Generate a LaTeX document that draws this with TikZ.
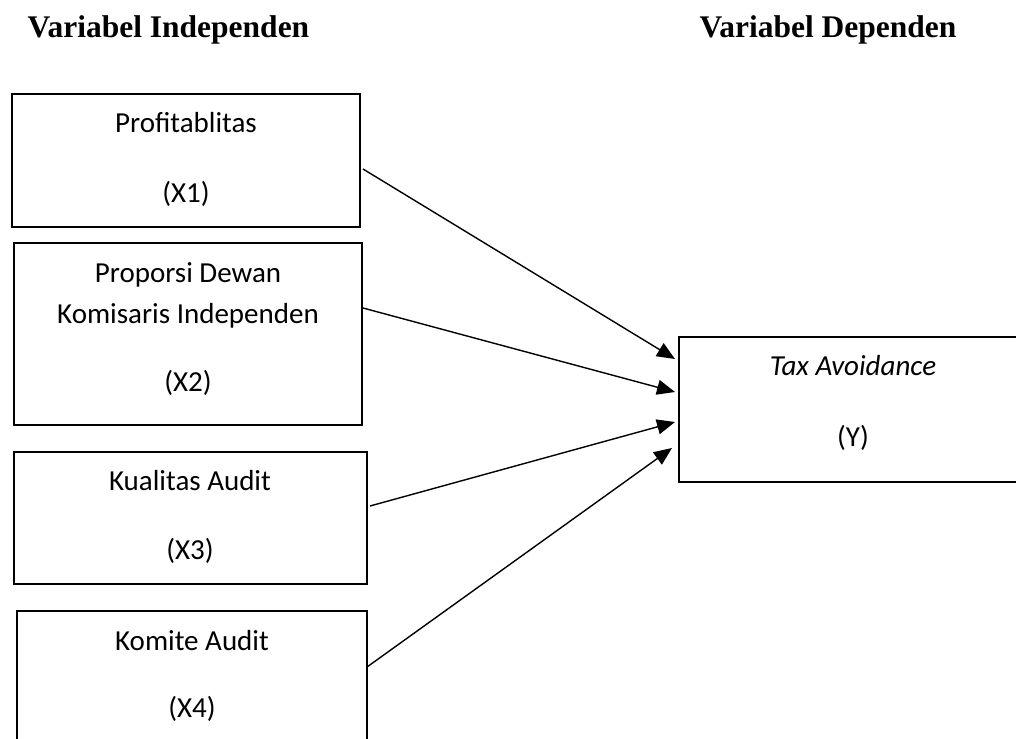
\documentclass[tikz,border=0pt]{standalone}
\usepackage{fontspec}
\setmainfont{Carlito}
\newfontfamily\titlefont{Liberation Serif}
\usetikzlibrary{arrows.meta}
\begin{document}
\begin{tikzpicture}[x=1pt,y=-1pt,
  box/.style={draw=black, line width=1.7pt, inner sep=0pt, rectangle},
  lbl/.style={anchor=base, inner sep=0pt, font=\fontsize{29}{35}\selectfont},
  ttl/.style={anchor=base, inner sep=0pt, font=\titlefont\bfseries\fontsize{31.5}{36}\selectfont},
  conn/.style={line width=1.4pt, -{Triangle[length=18pt,width=15pt]}}]
\clip (0,0) rectangle (1016,738);
\fill[white] (0,0) rectangle (1016,738);
% titles
\node[ttl] (t1) at (168.5,38) {Variabel Independen};
\node[ttl] (t2) at (828,38) {Variabel Dependen};
% boxes
\node[box, minimum width=348pt, minimum height=133pt] (b1) at (186,160.5) {};
\node[box, minimum width=348pt, minimum height=182pt] (b2) at (188,334) {};
\node[box, minimum width=353pt, minimum height=132pt] (b3) at (190.5,518) {};
\node[box, minimum width=350pt, minimum height=160pt] (b4) at (192,691) {};
\node[box, minimum width=351pt, minimum height=145pt] (by) at (854.5,409.5) {};
% labels
\node[lbl] (l1a) at (186,133) {Profitablitas};
\node[lbl] (l1b) at (186,202) {(X1)};
\node[lbl] (l2a) at (188,282) {Proporsi Dewan};
\node[lbl] (l2b) at (188,323) {Komisaris Independen};
\node[lbl] (l2c) at (188,391) {(X2)};
\node[lbl] (l3a) at (190,490) {Kualitas Audit};
\node[lbl] (l3b) at (190,559) {(X3)};
\node[lbl] (l4a) at (192,650) {Komite Audit};
\node[lbl] (l4b) at (192,717) {(X4)};
\node[lbl] (lya) at (853,375) {\itshape Tax Avoidance};
\node[lbl] (lyb) at (853,446) {(Y)};
% connector end points
\coordinate (s1) at (363,169);
\coordinate (s2) at (363,308);
\coordinate (s3) at (370,506);
\coordinate (s4) at (367,667);
\coordinate (e1) at (675,359);
\coordinate (e2) at (675,392);
\coordinate (e3) at (675,422);
\coordinate (e4) at (672,448);
\draw[conn] (s1) -- (e1);
\draw[conn] (s2) -- (e2);
\draw[conn] (s3) -- (e3);
\draw[conn] (s4) -- (e4);
\end{tikzpicture}
\end{document}
